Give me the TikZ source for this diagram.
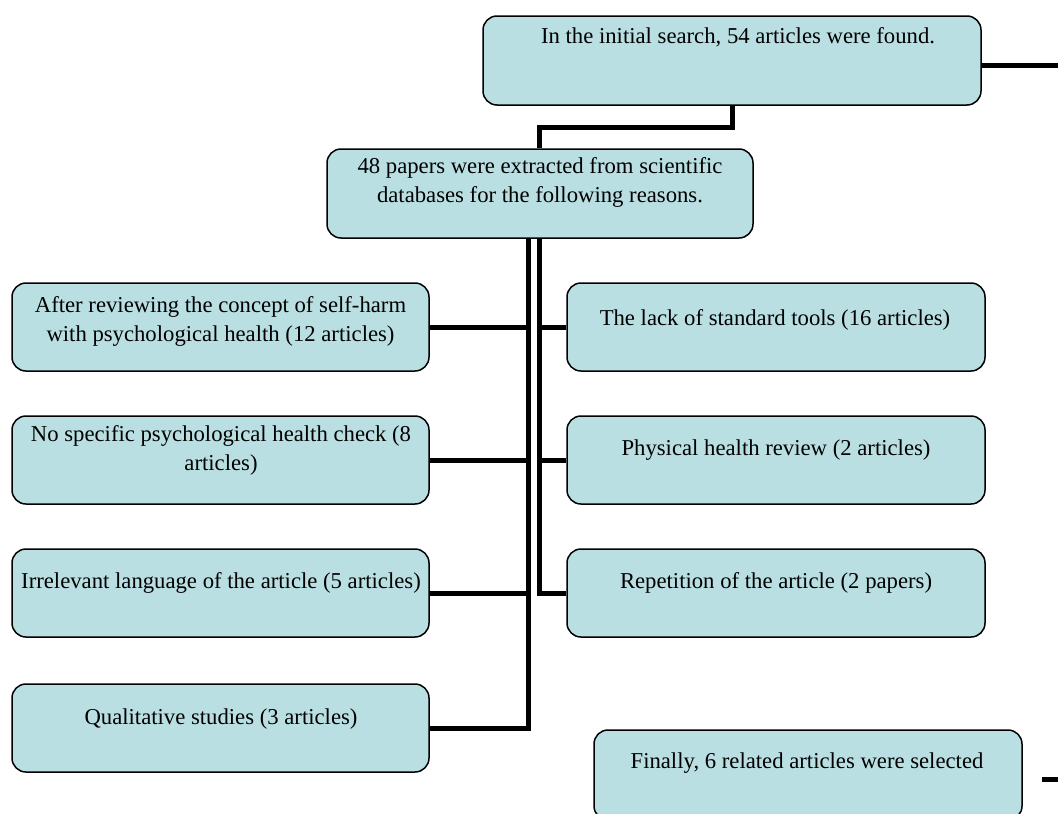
\documentclass[tikz,border=0pt]{standalone}
\usepackage{fontspec}
\setmainfont{Liberation Serif}
\definecolor{boxfill}{RGB}{185,223,227}
\begin{document}
\begin{tikzpicture}[x=1pt,y=-1pt,
  box/.style={draw=black,line width=1.5pt,fill=boxfill,rounded corners=14pt,inner sep=0pt},
  txt/.style={align=center,inner sep=0pt,font=\fontsize{22.7}{29}\selectfont},
  conn/.style={draw=black,line width=5pt}]
\clip (0,0) rectangle (1058,814);
\fill[white] (0,0) rectangle (1058,814);
% boxes
\node[box,minimum width=498pt,minimum height=89pt] (top) at (732,60.5) {};
\node[box,minimum width=426pt,minimum height=89pt] (mid) at (540,193.5) {};
\node[box,minimum width=417pt,minimum height=88pt] (L1) at (220.5,327) {};
\node[box,minimum width=417pt,minimum height=88pt] (L2) at (220.5,460) {};
\node[box,minimum width=417pt,minimum height=88pt] (L3) at (220.5,593) {};
\node[box,minimum width=417pt,minimum height=88pt] (L4) at (220.5,728) {};
\node[box,minimum width=418pt,minimum height=88pt] (R1) at (776,327) {};
\node[box,minimum width=418pt,minimum height=88pt] (R2) at (776,460) {};
\node[box,minimum width=418pt,minimum height=88pt] (R3) at (776,593) {};
\node[box,minimum width=428pt,minimum height=90pt] (R4) at (808,775) {};
% texts
\node[txt] (topt) at (738,37) {In the initial search, 54 articles were found.};
\node[txt] (midt) at (540,182.5) {48 papers were extracted from scientific\\databases for the following reasons.};
\node[txt] (L1t) at (220.5,321.5) {After reviewing the concept of self-harm\\with psychological health (12 articles)};
\node[txt] (L2t) at (221,450) {No specific psychological health check (8\\articles)};
\node[txt] (L3t) at (221,583) {Irrelevant language of the article (5 articles)};
\node[txt] (L4t) at (221,719) {Qualitative studies (3 articles)};
\node[txt] (R1t) at (775,320) {The lack of standard tools (16 articles)};
\node[txt] (R2t) at (776,450) {Physical health review (2 articles)};
\node[txt] (R3t) at (776,583) {Repetition of the article (2 papers)};
\node[txt] (R4t) at (807,763) {Finally, 6 related articles were selected};
% junction coordinates
\coordinate (jL) at (528,0);
\coordinate (jR) at (539,0);
\coordinate (eR) at (1058,65);
\coordinate (s1) at (1042,779);
\coordinate (s2) at (1058,779);
% connectors
\draw[conn] (top.south) -- (top.south |- 0,127) -| (mid.north -| jR);
\draw[conn] (top.east |- eR) -- (eR);
\draw[conn] (mid.south -| jL) |- (L4.east);
\draw[conn] (L1.east) -- (L1.east -| jL);
\draw[conn] (L2.east) -- (L2.east -| jL);
\draw[conn] (L3.east) -- (L3.east -| jL);
\draw[conn] (mid.south -| jR) |- (R3.west);
\draw[conn] (R1.west) -- (R1.west -| jR);
\draw[conn] (R2.west) -- (R2.west -| jR);
\draw[conn] (s1) -- (s2);
\end{tikzpicture}
\end{document}
